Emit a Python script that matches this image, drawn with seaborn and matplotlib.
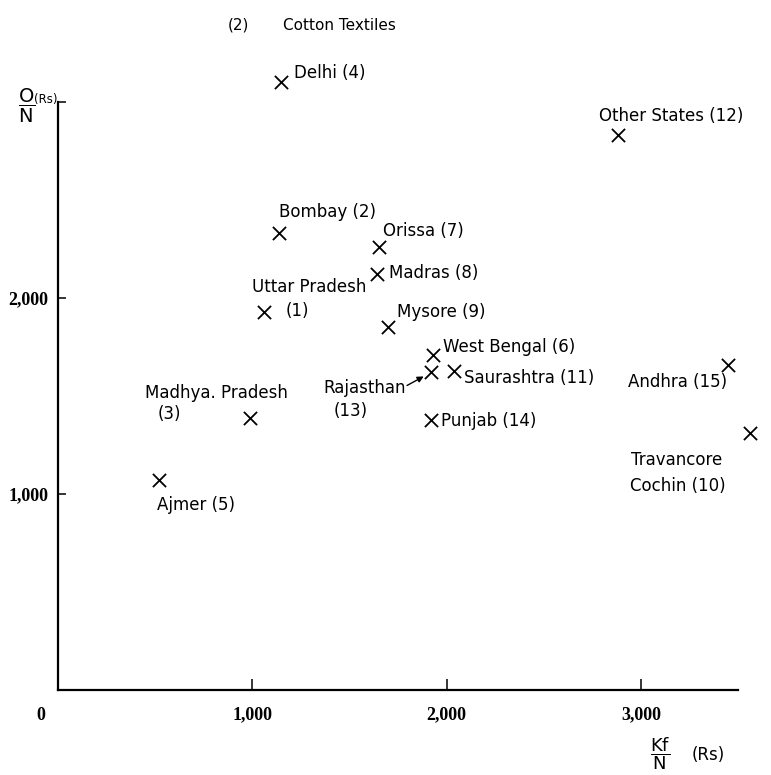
import matplotlib
matplotlib.use("Agg")
import matplotlib.pyplot as plt
import seaborn as sns
import pandas as pd

# ---- data ----
states = ["Uttar Pradesh", "Bombay", "Madhya. Pradesh", "Delhi", "Ajmer",
          "West Bengal", "Orissa", "Madras", "Mysore", "Travancore Cochin",
          "Saurashtra", "Other States", "Rajasthan", "Punjab", "Andhra"]
codes = [1, 2, 3, 4, 5, 6, 7, 8, 9, 10, 11, 12, 13, 14, 15]
kf_per_n = [1060, 1140, 990, 1150, 520, 1930, 1650, 1640, 1700, 3560,
            2040, 2880, 1920, 1920, 3450]
o_per_n = [1930, 2330, 1390, 3100, 1070, 1710, 2260, 2120, 1850, 1310,
           1630, 2830, 1620, 1380, 1660]
x_ticks = [1000, 2000, 3000]
x_tick_labels = ["1,000", "2,000", "3,000"]
y_ticks = [1000, 2000, 3000]
y_tick_labels = ["1,000", "2,000", ""]
title_num = "(2)"
title_text = "Cotton Textiles"

# ---- label layout: pieces of (text, dx px, dy px, ha) ----
layout = {
    1: [("{name}", -12, 25, "left"), ("({code})", 22, 1, "left")],
    2: [("{name} ({code})", 0, 21, "left")],
    3: [("{name}", -105, 25, "left"), ("({code})", -93, 4, "left")],
    4: [("{name} ({code})", 13, 9, "left")],
    5: [("{name} ({code})", -2, -25, "left")],
    6: [("{name} ({code})", 10, 8, "left")],
    7: [("{name} ({code})", 4, 16, "left")],
    8: [("{name} ({code})", 12, 1, "left")],
    9: [("{name} ({code})", 9, 15, "left")],
    10: [("Travancore", -73, -27, "center"), ("Cochin ({code})", -72, -53, "center")],
    11: [("{name} ({code})", 10, -7, "left")],
    12: [("{name} ({code})", -19, 19, "left")],
    13: [("{name}", -25, -16, "right"), ("({code})", -80, -39, "center")],
    14: [("{name} ({code})", 10, -1, "left")],
    15: [("{name} ({code})", -1, -17, "right")],
}

sns.set_style("ticks")
plt.rcParams["font.family"] = ["DejaVu Sans"]
plt.rcParams["mathtext.default"] = "regular"
plt.rcParams["text.color"] = "black"

W, H = 771, 775
fig = plt.figure(figsize=(W / 100, H / 100), dpi=100)
ax = fig.add_axes([58 / W, 1 - 690 / H, (738 - 58) / W, (690 - 102) / H])

df = pd.DataFrame({"state": states, "code": codes, "kf": kf_per_n, "o": o_per_n})
sns.scatterplot(data=df, x="kf", y="o", marker="x", s=90, color="black",
                linewidth=1.3, ax=ax, clip_on=False, zorder=3)

ax.set_xlim(0, 3500)
ax.set_ylim(0, 3000)
sns.despine(ax=ax)
for sp in ("left", "bottom"):
    ax.spines[sp].set_linewidth(1.6)
    ax.spines[sp].set_color("black")

ax.set_xticks(x_ticks)
ax.set_xticklabels(x_tick_labels)
ax.set_yticks(y_ticks)
ax.set_yticklabels(y_tick_labels)
ax.tick_params(axis="x", direction="in", length=8, width=1.1, pad=12,
               colors="black", labelsize=13)
ax.tick_params(axis="y", direction="in", length=6, width=1.1, pad=7,
               colors="black", labelsize=13)
for lab in ax.get_xticklabels() + ax.get_yticklabels():
    lab.set_fontfamily("Liberation Serif")
    lab.set_fontweight("bold")
ax.set_xlabel("")
ax.set_ylabel("")

# origin "0" label
ax.annotate("0", xy=(0, 0), xytext=(-17, -25), textcoords="offset pixels",
            ha="center", va="center", fontfamily="Liberation Serif",
            fontweight="bold", fontsize=13, annotation_clip=False)

# point labels
for _, r in df.iterrows():
    for txt, dx, dy, ha in layout[r["code"]]:
        ax.annotate(txt.format(name=r["state"], code=r["code"]),
                    xy=(r["kf"], r["o"]), xytext=(dx, dy),
                    textcoords="offset pixels", ha=ha, va="center",
                    fontsize=12, annotation_clip=False)

# Rajasthan arrow
raj = df[df["code"] == 13].iloc[0]
ax.annotate("", xy=(raj["kf"], raj["o"]), xytext=(-24, -13),
            textcoords="offset pixels",
            arrowprops=dict(arrowstyle="-|>", color="black", lw=1.0,
                            shrinkA=0, shrinkB=6, mutation_scale=9),
            annotation_clip=False)

# axis labels
ax.annotate(r"$\dfrac{O}{N}$", xy=(0, 3000), xytext=(-31, -4),
            textcoords="offset pixels", ha="center", va="center",
            fontsize=14, annotation_clip=False)
ax.annotate("(Rs)", xy=(0, 3000), xytext=(-12, 3), textcoords="offset pixels",
            ha="center", va="center", fontsize=8.5, annotation_clip=False)
ax.annotate(r"$\dfrac{Kf}{N}$", xy=(1, 0), xycoords="axes fraction",
            xytext=(-78, -64), textcoords="offset pixels", ha="center",
            va="center", fontsize=13, annotation_clip=False)
ax.annotate("(Rs)", xy=(1, 0), xycoords="axes fraction", xytext=(-46, -65),
            textcoords="offset pixels", ha="left", va="center", fontsize=12,
            annotation_clip=False)

fig.text(228 / W, 1 - 25 / H, title_num, ha="left", va="center", fontsize=11)
fig.text(283 / W, 1 - 25 / H, title_text, ha="left", va="center", fontsize=11)

fig.savefig("out.png", dpi=100)
